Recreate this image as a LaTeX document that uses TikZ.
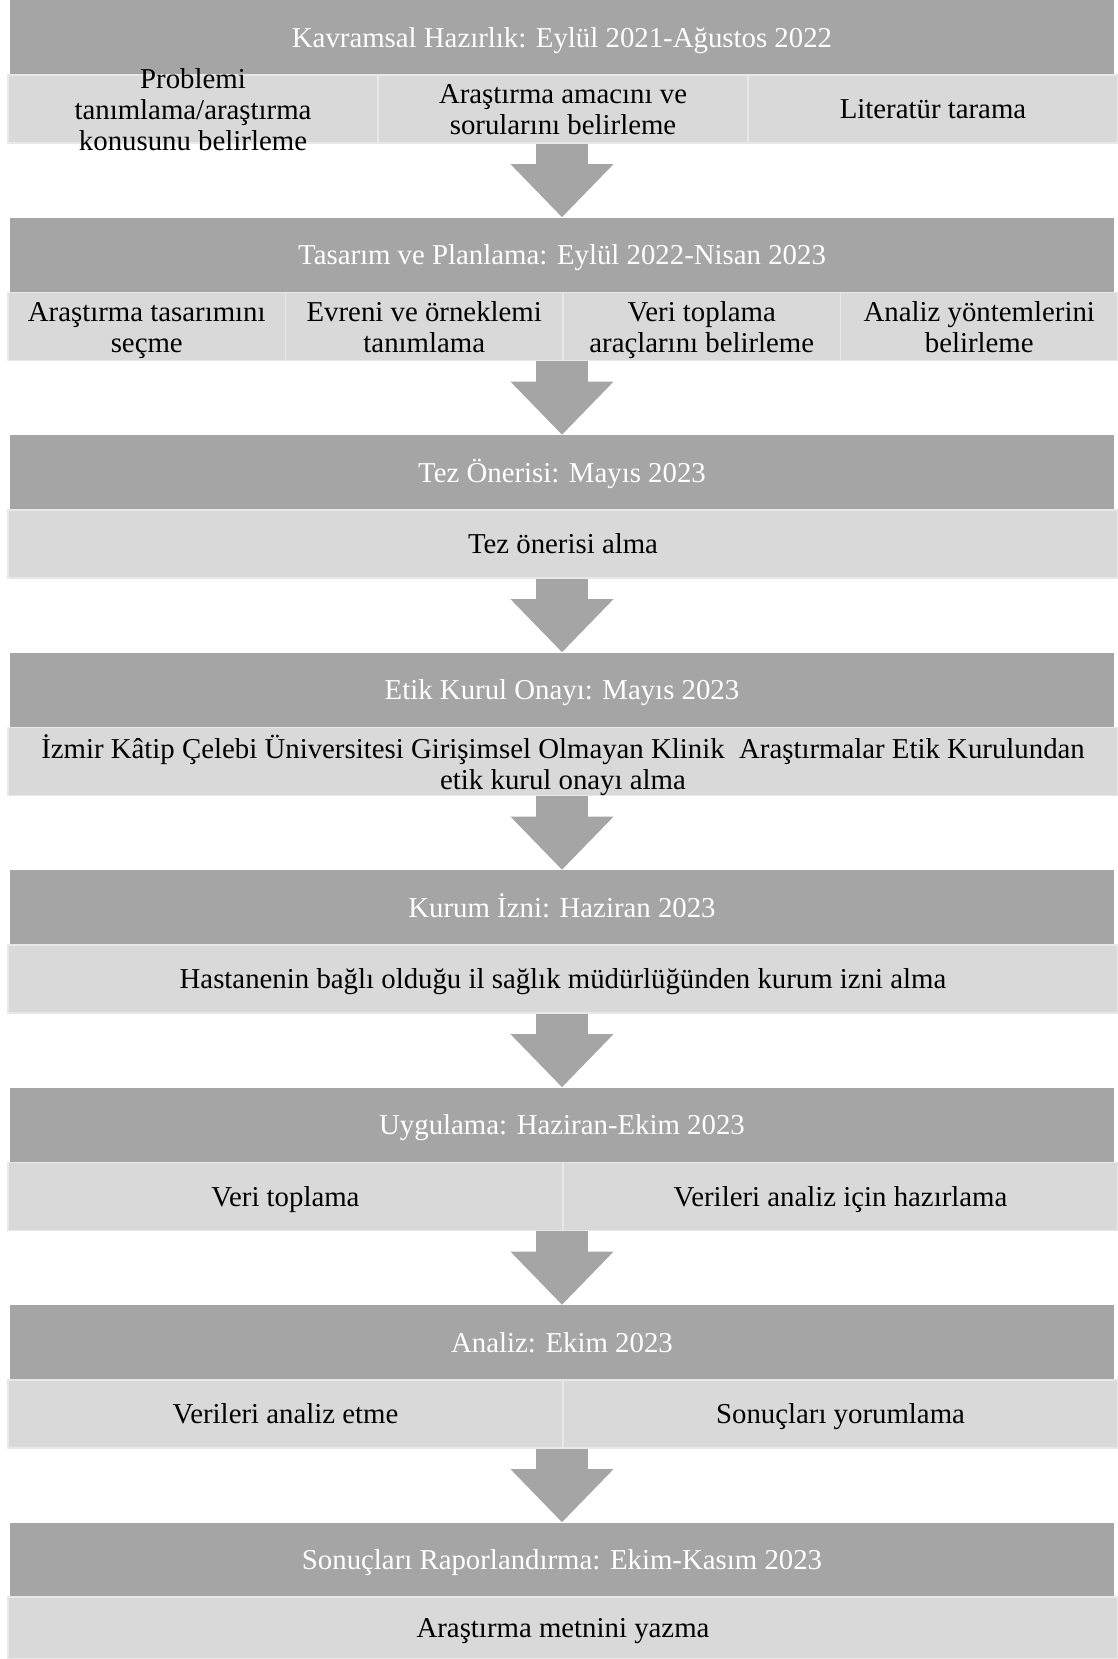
\documentclass[tikz,border=0pt]{standalone}
\usepackage{fontspec}
\setmainfont{Liberation Serif}
\usetikzlibrary{arrows.meta}
\definecolor{hdrgray}{RGB}{165,165,165}
\definecolor{rowgray}{RGB}{217,217,217}
\definecolor{rowedge}{RGB}{232,232,232}
\newcommand\tstrut{\rule[-3.8pt]{0pt}{18.8pt}}
\newcommand\boxfont{\fontsize{16.4}{17.6}\selectfont\lineskiplimit=-20pt\relax}
\begin{document}
\begin{tikzpicture}[x=0.02cm,y=-0.02cm]
\tikzstyle{every node}=[inner sep=0pt,align=center,font=\boxfont,
  execute at begin node=\tstrut,execute at end node=\tstrut]
\tikzstyle{hdr}=[fill=hdrgray,text=white,minimum width=22.07cm,minimum height=1.5cm]
\tikzstyle{cell}=[fill=rowgray,draw=rowedge,line width=0.8pt,minimum height=1.36cm]
\tikzstyle{lines}=[yshift=-2.4pt]
\tikzstyle{flow}=[hdrgray,line width=1.04cm,-{Triangle[width=2.06cm,length=1.06cm,line width=0pt]}]
\useasboundingbox (0,0) rectangle (1118,1659);
% Kavramsal Hazirlik
\node[hdr](h1) at (562,37.5) {Kavramsal Hazırlık: Eylül 2021-Ağustos 2022};
\node[cell,minimum width=7.4cm](r11) at (193,109) {};
\node[cell,minimum width=7.4cm](r12) at (563,109) {};
\node[cell,minimum width=7.4cm](r13) at (933,109) {};
\node[lines] at (r11) {Problemi\\tanımlama/araştırma\\konusunu belirleme};
\node[lines] at (r12) {Araştırma amacını ve\\sorularını belirleme};
\node at (r13) {Literatür tarama};
% Tasarim ve Planlama
\node[hdr](h2) at (562,255) {Tasarım ve Planlama: Eylül 2022-Nisan 2023};
\node[cell,minimum width=5.55cm](r21) at (146.75,326.5) {};
\node[cell,minimum width=5.55cm](r22) at (424.25,326.5) {};
\node[cell,minimum width=5.55cm](r23) at (701.75,326.5) {};
\node[cell,minimum width=5.55cm](r24) at (979.25,326.5) {};
\node[lines] at (r21) {Araştırma tasarımını\\seçme};
\node[lines] at (r22) {Evreni ve örneklemi\\tanımlama};
\node[lines] at (r23) {Veri toplama\\araçlarını belirleme};
\node[lines] at (r24) {Analiz yöntemlerini\\belirleme};
% Tez Onerisi
\node[hdr](h3) at (562,472.5) {Tez Önerisi: Mayıs 2023};
\node[cell,minimum width=22.2cm](r31) at (563,544) {};
\node at (r31) {Tez önerisi alma};
% Etik Kurul
\node[hdr](h4) at (562,690) {Etik Kurul Onayı: Mayıs 2023};
\node[cell,minimum width=22.2cm](r41) at (563,761.5) {};
\node[lines] at (r41) {İzmir Kâtip Çelebi Üniversitesi Girişimsel Olmayan Klinik\ \ Araştırmalar Etik Kurulundan\\etik kurul onayı alma};
% Kurum Izni
\node[hdr](h5) at (562,907.5) {Kurum İzni: Haziran 2023};
\node[cell,minimum width=22.2cm](r51) at (563,979) {};
\node at (r51) {Hastanenin bağlı olduğu il sağlık müdürlüğünden kurum izni alma};
% Uygulama
\node[hdr](h6) at (562,1125) {Uygulama: Haziran-Ekim 2023};
\node[cell,minimum width=11.1cm](r61) at (285.5,1196.5) {};
\node[cell,minimum width=11.1cm](r62) at (840.5,1196.5) {};
\node at (r61) {Veri toplama};
\node at (r62) {Verileri analiz için hazırlama};
% Analiz
\node[hdr](h7) at (562,1342.5) {Analiz: Ekim 2023};
\node[cell,minimum width=11.1cm](r71) at (285.5,1414) {};
\node[cell,minimum width=11.1cm](r72) at (840.5,1414) {};
\node at (r71) {Verileri analiz etme};
\node at (r72) {Sonuçları yorumlama};
% Sonuclari Raporlandirma
\node[hdr](h8) at (562,1560) {Sonuçları Raporlandırma: Ekim-Kasım 2023};
\node[cell,minimum width=22.2cm,minimum height=1.24cm](r81) at (563,1628) {};
\node at (r81) {Araştırma metnini yazma};
% arrows
\draw[flow] (h1.south |- r11.south) -- (h2.north);
\draw[flow] (h2.south |- r21.south) -- (h3.north);
\draw[flow] (h3.south |- r31.south) -- (h4.north);
\draw[flow] (h4.south |- r41.south) -- (h5.north);
\draw[flow] (h5.south |- r51.south) -- (h6.north);
\draw[flow] (h6.south |- r61.south) -- (h7.north);
\draw[flow] (h7.south |- r71.south) -- (h8.north);
\end{tikzpicture}
\end{document}
